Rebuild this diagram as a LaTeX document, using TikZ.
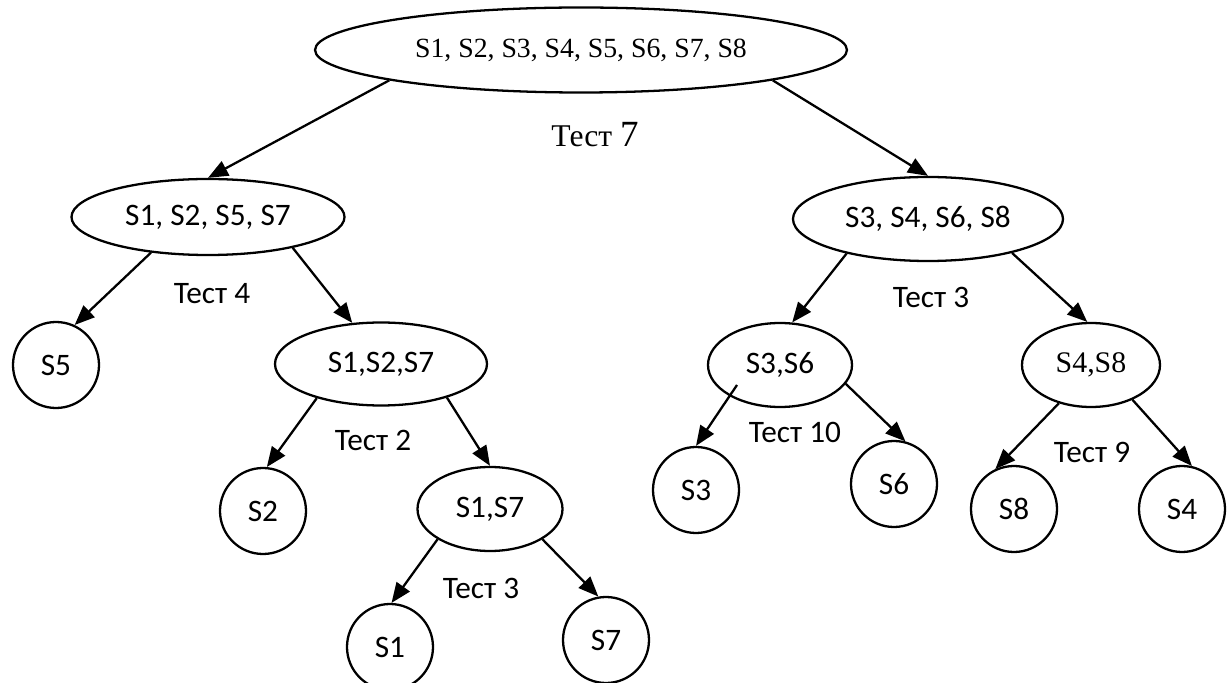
\documentclass[tikz,border=0pt]{standalone}
\usepackage{fontspec}
\setmainfont{Liberation Serif}
\newfontfamily\calibri{Carlito}
\usetikzlibrary{shapes.geometric,arrows.meta}
\tikzstyle{setnode} = [ellipse,
                    draw=black,
                    line width=1.3pt,
                    inner sep=0pt,
                    text centered,
                    font=\calibri\fontsize{17.8}{21}\selectfont]
\tikzstyle{leafnode} = [circle,
                    draw=black,
                    line width=1.3pt,
                    inner sep=0pt,
                    minimum size=1.72cm,
                    font=\calibri\fontsize{17.8}{21}\selectfont]
\tikzstyle{testlabel} = [font=\calibri\fontsize{17.8}{21}\selectfont]
\tikzstyle{branch} = [line width=1.3pt,
                    -{Triangle[length=0.40cm,width=0.32cm]}]

\begin{document}
\begin{tikzpicture}
\useasboundingbox (0,0) rectangle (24.56,-13.66);
% sets of states
\node (all) [setnode, minimum width=10.64cm, minimum height=1.70cm, font=\fontsize{15.8}{19}\selectfont] at (11.62,-1.00) {S1, S2, S3, S4, S5, S6, S7, S8};
\node (s1257) [setnode, minimum width=5.46cm, minimum height=1.52cm] at (4.16,-4.34) {S1, S2, S5, S7};
\node (s3468) [setnode, minimum width=5.40cm, minimum height=1.68cm] at (18.56,-4.38) {S3, S4, S6, S8};
\node (s127) [setnode, minimum width=4.24cm, minimum height=1.66cm] at (7.62,-7.28) {S1,S2,S7};
\node (s17) [setnode, minimum width=2.90cm, minimum height=1.68cm] at (9.80,-10.18) {S1,S7};
\node (s36) [setnode, minimum width=2.88cm, minimum height=1.68cm] at (15.60,-7.30) {S3,S6};
\node (s48) [setnode, minimum width=2.76cm, minimum height=1.68cm, font=\fontsize{17}{20}\selectfont] at (21.82,-7.30) {S4,S8};
% single states
\node (s5) [leafnode] at (1.12,-7.30) {S5};
\node (s2) [leafnode] at (5.26,-10.22) {S2};
\node (s1) [leafnode] at (7.80,-12.94) {S1};
\node (s7) [leafnode] at (12.12,-12.80) {S7};
\node (s3) [leafnode] at (13.92,-9.80) {S3};
\node (s6) [leafnode] at (17.88,-9.68) {S6};
\node (s8) [leafnode] at (20.28,-10.18) {S8};
\node (s4) [leafnode] at (23.64,-10.18) {S4};
% tests
\node (t7) [font=\fontsize{18}{21}\selectfont] at (11.90,-2.70) {Тест {\fontsize{21}{24}\selectfont 7}};
\node (t4) [testlabel] at (4.24,-5.88) {Тест 4};
\node (t2) [testlabel] at (7.46,-8.80) {Тест 2};
\node (t3a) [testlabel] at (9.62,-11.76) {Тест 3};
\node (t3b) [testlabel] at (18.62,-5.94) {Тест 3};
\node (t10) [testlabel] at (15.90,-8.64) {Тест 10};
\node (t9) [testlabel] at (21.84,-9.04) {Тест 9};

\draw [branch] (all.189) -- (s1257.north);
\draw [branch] (all.351) -- (s3468.north);
\draw [branch] (s1257.212) -- (s5.65);
\draw [branch] (s1257.340) -- (s127.125);
\draw [branch] (s127.208) -- (s2.85);
\draw [branch] (s127.333) -- (s17.north);
\draw [branch] (s17.210) -- (s1.88);
\draw [branch] (s17.330) -- (s7.100);
\draw [branch] (s3468.203) -- (s36.74);
\draw [branch] (s3468.338) -- (s48.95);
\draw [branch] ([xshift=-0.86cm,yshift=-0.40cm]s36.center) -- (s3.north);
\draw [branch] (s36.344) -- (s6.75);
\draw [branch] (s48.230) -- (s8.115);
\draw [branch] (s48.320) -- (s4.77);
\end{tikzpicture}
\end{document}
